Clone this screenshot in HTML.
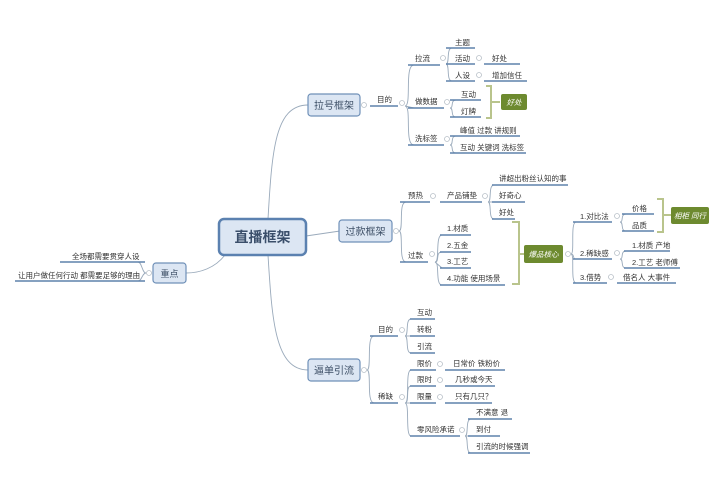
<!DOCTYPE html>
<html><head><meta charset="utf-8"><style>
html,body{margin:0;padding:0;background:#fff;width:720px;height:477px;overflow:hidden}
svg{display:block}
text{font-family:"Liberation Sans","Noto Sans CJK SC",sans-serif;font-size:7.5px;fill:#333}
.u{stroke:#5f82ab;stroke-width:1.6;fill:none}
.c{stroke:#9aaabb;stroke-width:0.9;fill:none}
.o{fill:#fff;stroke:#b8c0c8;stroke-width:0.8}
.br{stroke:#b9c48c;stroke-width:2;fill:none}
.g{fill:#6d8a2f}
.gt{fill:#fff;font-style:italic;font-size:7.5px}
.bx{fill:#dce6f3;stroke:#6f90b8;stroke-width:1.2}
.bt{font-size:10px;fill:#3d4f66}
</style></head><body>
<svg width="720" height="477" viewBox="0 0 720 477">
<!-- root connectors -->
<path class="c" d="M268,219 C272,150 275,105 308,105"/>
<path class="c" d="M306,236 L340,231"/>
<path class="c" d="M268,255 C272,320 275,370 308,370"/>
<path class="c" d="M225,255 C215,268 200,273 186,273"/>
<!-- root -->
<rect x="219" y="219" width="87" height="36" rx="5" fill="#dce6f3" stroke="#5b81b0" stroke-width="2.5"/>
<text x="262.5" y="242" text-anchor="middle" style="font-size:14px;font-weight:bold;fill:#3a4e6a">直播框架</text>

<!-- 重点 -->
<rect class="bx" x="153" y="263" width="33" height="20" rx="3"/>
<text class="bt" x="169.5" y="277" text-anchor="middle" style="font-size:9px">重点</text>
<circle class="o" cx="149" cy="273" r="2.5"/>
<path class="c" d="M146,273 C142,273 142,262 138,262"/>
<path class="c" d="M146,273 C142,273 142,281 138,281"/>
<line class="u" x1="60" y1="262" x2="145" y2="262"/>
<line class="u" x1="15" y1="281" x2="145" y2="281"/>
<text x="72" y="259">全场都需要贯穿人设</text>
<text x="18" y="278">让用户做任何行动  都需要足够的理由</text>

<!-- 拉号框架 -->
<rect class="bx" x="308" y="94" width="52" height="22" rx="3"/>
<text class="bt" x="334" y="109" text-anchor="middle">拉号框架</text>
<circle class="o" cx="364" cy="105" r="2.5"/>
<line class="u" x1="370" y1="106" x2="398" y2="106"/>
<text x="377" y="102">目的</text>
<circle class="o" cx="402" cy="103" r="2.5"/>
<path class="c" d="M405,106 C412,106 404,65 414,65"/>
<path class="c" d="M405,106 L414,108"/>
<path class="c" d="M405,106 C412,106 404,145 414,145"/>
<line class="u" x1="408" y1="65" x2="440" y2="65"/>
<text x="415" y="61">拉流</text>
<circle class="o" cx="443" cy="58" r="2.5"/>
<path class="c" d="M446,64 C450,64 446,48 452,48"/>
<path class="c" d="M446,64 L452,64"/>
<path class="c" d="M446,64 C450,64 446,81 452,81"/>
<line class="u" x1="446" y1="48" x2="475" y2="48"/>
<text x="455" y="45">主题</text>
<line class="u" x1="446" y1="64" x2="475" y2="64"/>
<text x="455" y="61">活动</text>
<circle class="o" cx="479" cy="58" r="2.5"/>
<line class="u" x1="484" y1="64" x2="520" y2="64"/>
<text x="492" y="61">好处</text>
<line class="u" x1="446" y1="81" x2="475" y2="81"/>
<text x="455" y="78">人设</text>
<circle class="o" cx="479" cy="75" r="2.5"/>
<line class="u" x1="484" y1="81" x2="527" y2="81"/>
<text x="492" y="78">增加信任</text>

<line class="u" x1="408" y1="108" x2="444" y2="108"/>
<text x="415" y="104">做数据</text>
<circle class="o" cx="447" cy="102" r="2.5"/>
<path class="c" d="M450,108 C454,108 450,100 456,100"/>
<path class="c" d="M450,108 C454,108 450,117 456,117"/>
<line class="u" x1="450" y1="100" x2="481" y2="100"/>
<text x="461" y="97">互动</text>
<line class="u" x1="450" y1="117" x2="481" y2="117"/>
<text x="461" y="114">灯牌</text>
<path class="br" d="M486,86 L491,86 L491,118 L486,118 M491,102 L500,102"/>
<rect class="g" x="501" y="94" width="26" height="16" rx="2"/>
<text class="gt" x="514" y="105" text-anchor="middle">好处</text>

<line class="u" x1="408" y1="145" x2="444" y2="145"/>
<text x="415" y="141">洗标签</text>
<circle class="o" cx="447" cy="139" r="2.5"/>
<path class="c" d="M450,145 C454,145 450,136 456,136"/>
<path class="c" d="M450,145 C454,145 450,153 456,153"/>
<line class="u" x1="450" y1="136" x2="520" y2="136"/>
<text x="460" y="133">峰值 过款 讲规则</text>
<line class="u" x1="450" y1="153" x2="526" y2="153"/>
<text x="460" y="150">互动 关键词 洗标签</text>

<!-- 过款框架 -->
<rect class="bx" x="339" y="220" width="53" height="22" rx="3"/>
<text class="bt" x="365.5" y="235" text-anchor="middle">过款框架</text>
<circle class="o" cx="396" cy="231" r="2.5"/>
<path class="c" d="M399,231 C404,231 398,202 406,202"/>
<path class="c" d="M399,231 C404,231 398,262 406,262"/>
<line class="u" x1="400" y1="202" x2="430" y2="202"/>
<text x="408" y="198">预热</text>
<circle class="o" cx="433" cy="196" r="2.5"/>
<line class="u" x1="440" y1="202" x2="482" y2="202"/>
<text x="447" y="198">产品铺垫</text>
<circle class="o" cx="485" cy="196" r="2.5"/>
<path class="c" d="M488,202 C492,202 488,185 494,185"/>
<path class="c" d="M488,202 L494,202"/>
<path class="c" d="M488,202 C492,202 488,219 494,219"/>
<line class="u" x1="492" y1="185" x2="568" y2="185"/>
<text x="499" y="181">讲超出粉丝认知的事</text>
<line class="u" x1="492" y1="202" x2="525" y2="202"/>
<text x="499" y="198">好奇心</text>
<line class="u" x1="492" y1="219" x2="515" y2="219"/>
<text x="499" y="215">好处</text>

<line class="u" x1="400" y1="262" x2="428" y2="262"/>
<text x="408" y="258">过款</text>
<circle class="o" cx="432" cy="254" r="2.5"/>
<path class="c" d="M435,262 C440,262 435,235 442,235"/>
<path class="c" d="M435,262 C440,262 435,252 442,252"/>
<path class="c" d="M435,262 L442,268"/>
<path class="c" d="M435,262 C440,262 435,285 442,285"/>
<line class="u" x1="440" y1="235" x2="471" y2="235"/>
<text x="447" y="231">1.材质</text>
<line class="u" x1="440" y1="252" x2="471" y2="252"/>
<text x="447" y="248">2.五金</text>
<line class="u" x1="440" y1="268" x2="471" y2="268"/>
<text x="447" y="264">3.工艺</text>
<line class="u" x1="440" y1="285" x2="505" y2="285"/>
<text x="447" y="281">4.功能  使用场景</text>
<path class="br" d="M512,222 L519,222 L519,284 L512,284 M519,254 L524,254"/>
<rect class="g" x="524" y="245" width="39" height="18" rx="2"/>
<text class="gt" x="543.5" y="257" text-anchor="middle">爆品核心</text>
<circle class="o" cx="568" cy="254" r="2.5"/>
<path class="c" d="M571,254 C575,254 570,222 576,222"/>
<path class="c" d="M571,254 C575,254 572,259 576,259"/>
<path class="c" d="M571,254 C575,254 570,283 576,283"/>
<line class="u" x1="573" y1="222" x2="612" y2="222"/>
<text x="580" y="219">1.对比法</text>
<circle class="o" cx="617" cy="216" r="2.5"/>
<path class="c" d="M620,222 C624,222 620,214 626,214"/>
<path class="c" d="M620,222 C624,222 620,231 626,231"/>
<line class="u" x1="622" y1="214" x2="654" y2="214"/>
<text x="632" y="211">价格</text>
<line class="u" x1="622" y1="231" x2="654" y2="231"/>
<text x="632" y="228">品质</text>
<path class="br" d="M657,199 L663,199 L663,232 L657,232 M663,215 L671,215"/>
<rect class="g" x="671" y="207" width="38" height="17" rx="2"/>
<text class="gt" x="690" y="218.5" text-anchor="middle">相柜  同行</text>
<line class="u" x1="573" y1="259" x2="612" y2="259"/>
<text x="580" y="256">2.稀缺感</text>
<circle class="o" cx="617" cy="253" r="2.5"/>
<path class="c" d="M620,259 C624,259 620,251 626,251"/>
<path class="c" d="M620,259 C624,259 620,268 626,268"/>
<line class="u" x1="624" y1="251" x2="670" y2="251"/>
<text x="632" y="248">1.材质  产地</text>
<line class="u" x1="624" y1="268" x2="680" y2="268"/>
<text x="632" y="265">2.工艺  老师傅</text>
<line class="u" x1="573" y1="283" x2="607" y2="283"/>
<text x="580" y="280">3.借势</text>
<circle class="o" cx="611" cy="277" r="2.5"/>
<line class="u" x1="617" y1="283" x2="676" y2="283"/>
<text x="623" y="280">借名人  大事件</text>

<!-- 逼单引流 -->
<rect class="bx" x="308" y="359" width="52" height="22" rx="3"/>
<text class="bt" x="334" y="374" text-anchor="middle">逼单引流</text>
<circle class="o" cx="364" cy="370" r="2.5"/>
<path class="c" d="M367,370 C372,370 366,336 374,336"/>
<path class="c" d="M367,370 C372,370 366,403 374,403"/>
<line class="u" x1="370" y1="336" x2="398" y2="336"/>
<text x="378" y="332">目的</text>
<circle class="o" cx="402" cy="330" r="2.5"/>
<path class="c" d="M405,336 C409,336 405,319 411,319"/>
<path class="c" d="M405,336 L411,336"/>
<path class="c" d="M405,336 C409,336 405,353 411,353"/>
<line class="u" x1="410" y1="319" x2="435" y2="319"/>
<text x="417" y="315">互动</text>
<line class="u" x1="410" y1="336" x2="435" y2="336"/>
<text x="417" y="332">转粉</text>
<line class="u" x1="410" y1="353" x2="435" y2="353"/>
<text x="417" y="349">引流</text>
<line class="u" x1="370" y1="403" x2="398" y2="403"/>
<text x="378" y="399">稀缺</text>
<circle class="o" cx="402" cy="397" r="2.5"/>
<path class="c" d="M405,403 C410,403 405,370 411,370"/>
<path class="c" d="M405,403 C410,403 405,386 411,386"/>
<path class="c" d="M405,403 L411,403"/>
<path class="c" d="M405,403 C410,403 405,436 411,436"/>
<line class="u" x1="410" y1="370" x2="436" y2="370"/>
<text x="417" y="366">限价</text>
<circle class="o" cx="440" cy="364" r="2.5"/>
<line class="u" x1="445" y1="370" x2="505" y2="370"/>
<text x="453" y="366">日常价  铁粉价</text>
<line class="u" x1="410" y1="386" x2="436" y2="386"/>
<text x="417" y="382">限时</text>
<circle class="o" cx="440" cy="380" r="2.5"/>
<line class="u" x1="445" y1="386" x2="495" y2="386"/>
<text x="455" y="382">几秒或今天</text>
<line class="u" x1="410" y1="403" x2="436" y2="403"/>
<text x="417" y="399">限量</text>
<circle class="o" cx="440" cy="397" r="2.5"/>
<line class="u" x1="445" y1="403" x2="492" y2="403"/>
<text x="455" y="399">只有几只？</text>
<line class="u" x1="410" y1="436" x2="460" y2="436"/>
<text x="417" y="432">零风险承诺</text>
<circle class="o" cx="462" cy="430" r="2.5"/>
<path class="c" d="M465,436 C469,436 465,419 471,419"/>
<path class="c" d="M465,436 L471,436"/>
<path class="c" d="M465,436 C469,436 465,453 471,453"/>
<line class="u" x1="468" y1="419" x2="512" y2="419"/>
<text x="476" y="415">不满意  退</text>
<line class="u" x1="468" y1="436" x2="500" y2="436"/>
<text x="476" y="432">到付</text>
<line class="u" x1="468" y1="453" x2="530" y2="453"/>
<text x="476" y="449">引流的时候强调</text>
</svg>
</body></html>
